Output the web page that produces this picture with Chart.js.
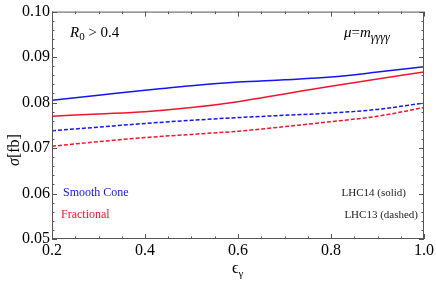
<!DOCTYPE html>
<html lang="en">
<head>
  <meta charset="UTF-8">
  <title>sigma vs epsilon</title>
  <script src="https://cdn.jsdelivr.net/npm/chart.js"></script>
  <style>
    html, body { margin: 0; padding: 0; background: #fff; }
    #wrap { width: 436px; height: 281px; }
  </style>
</head>
<body>
<div id="wrap"><canvas id="myChart" width="436" height="281"></canvas></div>
<script>
  // efficiency values and the four cross sections (fb)
  const eps = [0.2, 0.3, 0.4, 0.5, 0.6, 0.7, 0.8, 0.9, 1.0];
  const smoothLHC14 = [0.0805, 0.0816, 0.0827, 0.0837, 0.0845, 0.0850, 0.0856, 0.0867, 0.0879];
  const fracLHC14 = [0.0770, 0.0775, 0.0780, 0.0789, 0.0802, 0.0819, 0.0836, 0.0852, 0.0867];
  const smoothLHC13 = [0.0738, 0.0746, 0.0754, 0.0761, 0.0767, 0.0772, 0.0777, 0.0785, 0.0799];
  const fracLHC13 = [0.0704, 0.0714, 0.0723, 0.0730, 0.0737, 0.0747, 0.0758, 0.0770, 0.0789];
  const xTicks = [0.2, 0.4, 0.6, 0.8, 1.0];
  const yTicks = [0.05, 0.06, 0.07, 0.08, 0.09, 0.10];

  const BLUE = 'rgb(20,20,245)';
  const RED = 'rgb(245,20,45)';
  const serif = '"Liberation Serif", "DejaVu Serif", serif';

  const pts = arr => arr.map((v, i) => ({ x: eps[i], y: v }));

  const series = (data, color, dashed) => ({
    data: pts(data),
    borderColor: color,
    backgroundColor: color,
    borderWidth: 1.5,
    borderDash: dashed ? [4, 2] : [],
    pointRadius: 0,
    showLine: true,
    cubicInterpolationMode: 'monotone'
  });

  // frame ticks (inward, on all four sides) + annotations
  const frame = {
    id: 'frame',
    afterDraw(chart) {
      const ctx = chart.ctx;
      const a = chart.chartArea;
      const xs = chart.scales.x, ys = chart.scales.y;
      ctx.save();
      ctx.strokeStyle = '#555';
      ctx.lineWidth = 1;
      ctx.strokeRect(a.left + 0.5, a.top + 0.5, a.right - a.left - 1, a.bottom - a.top - 1);
      ctx.beginPath();
      for (let i = 0; i <= 16; i++) {
        const v = 0.2 + i * 0.05;
        const px = Math.round(xs.getPixelForValue(v)) + 0.5;
        const len = i % 4 === 0 ? 5 : 2.5;
        ctx.moveTo(px, a.bottom); ctx.lineTo(px, a.bottom - len);
        ctx.moveTo(px, a.top); ctx.lineTo(px, a.top + len);
      }
      for (let i = 0; i <= 25; i++) {
        const v = 0.05 + i * 0.002;
        const py = Math.round(ys.getPixelForValue(v)) + 0.5;
        const len = i % 5 === 0 ? 5 : 2.5;
        ctx.moveTo(a.left, py); ctx.lineTo(a.left + len, py);
        ctx.moveTo(a.right, py); ctx.lineTo(a.right - len, py);
      }
      ctx.stroke();

      ctx.fillStyle = '#000';
      ctx.textBaseline = 'middle';
      // R0 > 0.4
      ctx.font = 'italic 15px ' + serif;
      ctx.textAlign = 'left';
      ctx.fillText('R', 70, 33);
      let w = ctx.measureText('R').width;
      ctx.font = '11px ' + serif;
      ctx.fillText('0', 70 + w, 37);
      let w2 = ctx.measureText('0').width;
      ctx.font = '15px ' + serif;
      ctx.fillText(' > 0.4', 70 + w + w2, 33);

      // mu = m_gggg
      ctx.font = 'italic 15px ' + serif;
      ctx.fillText('\u03bc', 344, 33);
      w = ctx.measureText('\u03bc').width;
      ctx.font = '15px ' + serif;
      ctx.fillText('=', 344 + w, 33);
      w += ctx.measureText('=').width;
      ctx.font = 'italic 15px ' + serif;
      ctx.fillText('m', 344 + w, 33);
      w += ctx.measureText('m').width;
      ctx.font = 'italic 12px ' + serif;
      ctx.fillText('\u03b3\u03b3\u03b3\u03b3', 344 + w, 38);

      // legend texts
      ctx.font = '12px ' + serif;
      ctx.fillStyle = BLUE;
      ctx.fillText('Smooth Cone', 63, 193);
      ctx.fillStyle = RED;
      ctx.fillText('Fractional', 61, 215);
      ctx.fillStyle = '#222';
      ctx.font = '11px ' + serif;
      ctx.textAlign = 'right';
      ctx.fillText('LHC14 (solid)', 406, 193);
      ctx.fillText('LHC13 (dashed)', 418, 215);

      // axis titles
      ctx.fillStyle = '#000';
      ctx.textAlign = 'left';
      ctx.font = '16px ' + serif;
      const ex = 232;
      ctx.fillText('\u03f5', ex, 269);
      w = ctx.measureText('\u03f5').width;
      ctx.font = '11px ' + serif;
      ctx.fillText('\u03b3', ex + w, 274);

      ctx.translate(15, 150);
      ctx.rotate(-Math.PI / 2);
      ctx.font = 'italic 16px ' + serif;
      const sw = ctx.measureText('\u03c3').width;
      ctx.font = '16px ' + serif;
      const bw = ctx.measureText('[fb]').width;
      ctx.font = 'italic 16px ' + serif;
      ctx.fillText('\u03c3', -(sw + bw) / 2, 0);
      ctx.font = '16px ' + serif;
      ctx.fillText('[fb]', -(sw + bw) / 2 + sw, 0);
      ctx.restore();
    }
  };

  new Chart(document.getElementById('myChart'), {
    type: 'scatter',
    data: {
      datasets: [
        series(smoothLHC14, BLUE, false),
        series(fracLHC14, RED, false),
        series(smoothLHC13, BLUE, true),
        series(fracLHC13, RED, true)
      ]
    },
    options: {
      responsive: false,
      animation: false,
      layout: { padding: { top: 8, right: 11, left: 0, bottom: 0 } },
      plugins: { legend: { display: false }, tooltip: { enabled: false } },
      scales: {
        x: {
          type: 'linear', min: 0.2, max: 1.0,
          afterBuildTicks: s => { s.ticks = xTicks.map(v => ({ value: v })); },
          afterFit: s => { s.height = 42; },
          grid: { display: false, drawTicks: false },
          border: { display: false },
          ticks: {
            color: '#000', padding: 2,
            font: { family: serif, size: 16 },
            callback: v => v.toFixed(1)
          }
        },
        y: {
          type: 'linear', min: 0.05, max: 0.10,
          afterBuildTicks: s => { s.ticks = yTicks.map(v => ({ value: v })); },
          afterFit: s => { s.width = 52; },
          grid: { display: false, drawTicks: false },
          border: { display: false },
          ticks: {
            color: '#000', padding: 2,
            font: { family: serif, size: 16 },
            callback: v => v.toFixed(2)
          }
        }
      }
    },
    plugins: [frame]
  });
</script>
</body>
</html>
